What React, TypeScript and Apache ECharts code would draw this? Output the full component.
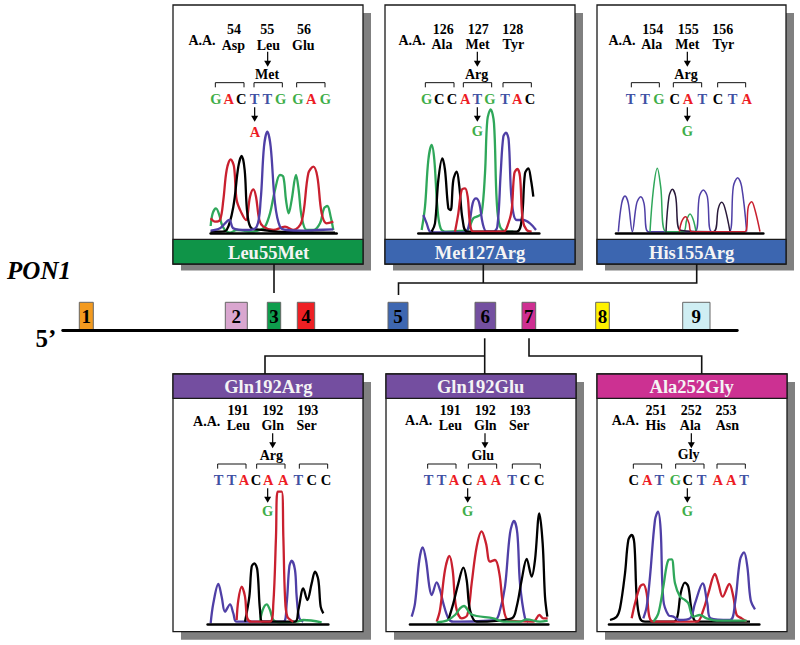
import React, { useEffect, useRef } from "react";
import * as echarts from "echarts";

type Pt = [number, number];

// ---- Trace readings: [scan position, signal level] per panel and dye ----
const leuGreen: Pt[] = [[122,678],[128,640],[138,625],[148,645],[155,672],[165,690],[180,698],[200,690],[220,692],[240,695],[270,690],[285,680],[300,640],[315,570],[330,525],[340,530],[348,600],[356,640],[365,600],[378,525],[386,570],[395,650],[410,690],[430,690],[450,670],[462,625],[472,618],[482,650],[490,690]];
const leuRed: Pt[] = [[122,655],[135,665],[150,660],[160,600],[170,510],[182,478],[192,500],[200,600],[215,640],[228,660],[240,590],[250,568],[258,590],[268,660],[280,680],[310,690],[345,680],[370,690],[395,665],[415,520],[430,500],[442,530],[455,640],[470,670],[490,665]];
const leuBlack: Pt[] = [[122,695],[150,695],[170,690],[190,620],[205,500],[215,468],[224,510],[232,640],[245,685],[280,690],[320,695],[495,698]];
const leuBlue: Pt[] = [[122,692],[150,685],[178,660],[190,685],[230,690],[260,680],[272,600],[282,440],[292,395],[302,440],[315,610],[330,680],[350,690],[400,692],[440,690],[490,688]];

const metGreen: Pt[] = [[125,690],[135,620],[145,480],[155,435],[163,480],[172,620],[182,685],[200,695],[240,693],[262,690],[280,655],[295,648],[305,640],[315,520],[322,360],[332,328],[342,370],[350,600],[360,680],[380,695],[400,695]];
const metBlue: Pt[] = [[130,645],[140,670],[150,695],[165,697],[255,697],[268,670],[278,610],[288,595],[298,610],[308,670],[320,695],[340,695],[352,680],[362,520],[370,410],[378,398],[386,420],[395,600],[410,660],[430,660],[450,670],[468,690]];
const metBlack: Pt[] = [[155,695],[165,670],[175,540],[187,475],[195,510],[205,625],[212,630],[220,540],[230,515],[238,560],[248,660],[262,695],[410,695],[425,660],[435,520],[445,505],[453,540],[460,590]];
const metRed: Pt[] = [[225,695],[235,640],[245,570],[255,565],[263,590],[270,670],[280,695],[370,695],[385,670],[395,630],[403,520],[412,507],[420,530],[428,660],[440,690],[455,695]];

const hisBlue: Pt[] = [[85,695],[95,610],[105,588],[115,610],[127,695],[140,610],[152,590],[162,610],[175,695],[315,695],[328,590],[340,570],[352,590],[365,695],[418,695],[430,560],[443,533],[455,560],[470,695]];
const hisGreen: Pt[] = [[180,695],[190,570],[202,505],[212,560],[228,695],[280,695],[290,660],[300,642],[310,660],[318,695]];
const hisBlack: Pt[] = [[228,695],[237,590],[247,568],[257,590],[270,690],[370,695],[385,625],[395,607],[405,625],[420,695]];
const hisRed: Pt[] = [[268,695],[275,665],[287,650],[297,670],[305,695],[465,695],[475,620],[485,605],[495,630],[510,695]];

const argBlue: Pt[] = [[122,760],[130,700],[145,642],[155,680],[165,725],[180,703],[190,730],[200,755],[340,755],[350,700],[358,590],[365,572],[375,600],[380,680],[388,745],[400,755]];
const argRed: Pt[] = [[200,750],[205,690],[215,650],[225,680],[232,745],[245,755],[300,755],[310,700],[318,500],[323,365],[335,365],[340,500],[345,680],[352,740],[370,755]];
const argBlack: Pt[] = [[225,755],[238,680],[245,590],[253,580],[262,600],[270,720],[278,755],[375,755],[385,720],[400,655],[412,690],[425,640],[435,605],[445,630],[452,710],[460,730]];
const argGreen: Pt[] = [[270,755],[278,720],[290,703],[300,720],[310,750],[330,757],[380,755],[400,750],[455,757]];

const gluBlue: Pt[] = [[95,740],[105,700],[118,570],[128,532],[138,570],[148,650],[155,675],[170,637],[180,660],[190,700],[205,745],[220,755],[345,750],[360,720],[375,650],[390,490],[402,453],[412,490],[420,640],[435,745],[445,755]];
const gluRed: Pt[] = [[170,755],[180,720],[195,600],[208,558],[218,600],[228,710],[245,745],[262,735],[275,640],[290,530],[305,484],[318,520],[330,575],[345,570],[358,610],[370,710],[385,750],[460,755],[478,735],[490,745],[503,745]];
const gluBlack: Pt[] = [[205,750],[220,700],[235,640],[250,593],[260,630],[270,720],[290,755],[395,745],[410,710],[425,630],[440,567],[455,620],[465,570],[478,430],[488,520],[495,680],[502,740]];
const gluGreen: Pt[] = [[170,757],[200,752],[225,735],[240,715],[252,708],[270,730],[290,738],[340,745],[370,755],[420,755],[440,748],[480,755],[503,752]];

const glyBlack: Pt[] = [[60,750],[80,740],[90,715],[105,610],[115,510],[125,495],[133,520],[140,680],[150,745],[165,755],[250,755],[262,740],[272,670],[285,638],[295,650],[305,720],[320,755],[440,755],[480,755]];
const glyRed: Pt[] = [[125,745],[135,700],[150,650],[160,643],[170,670],[178,740],[190,755],[320,755],[340,720],[355,670],[375,612],[385,640],[398,680],[418,642],[430,680],[440,735],[455,745],[470,755]];
const glyBlue: Pt[] = [[160,745],[170,710],[180,620],[195,450],[204,425],[212,480],[220,690],[235,735],[250,740],[270,750],[300,745],[315,700],[338,640],[352,700],[362,745],[420,750],[435,700],[450,570],[462,547],[472,590],[482,690],[495,718]];
const glyGreen: Pt[] = [[190,755],[205,730],[220,650],[235,570],[245,568],[255,640],[270,680],[285,690],[295,700],[310,740],[330,735],[350,745],[380,752],[470,752]];

// ---- Gene track ----
const exonLabels = ["1","2","3","4","5","6","7","8","9"];
const exonStarts = [79.3,225.3,267.3,297.3,388,475,522,595.7,682.7];
const exonEnds = [93.3,247.3,280.7,314.7,408,495.7,535.7,609.3,710];
const exonHeight = 28;
const exonColors = ["#f39a1f","#d9a6cf","#0f9d4d","#ee2024","#3e67b1","#7450a0","#cf2f92","#fff200","#cfeef3"];

// ---- Panel texts ----
const titles = ["Leu55Met","Met127Arg","His155Arg","Gln192Arg","Gln192Glu","Ala252Gly"];
const bandColors = ["#0f9448","#3c66b0","#3c66b0","#744ea0","#744ea0","#cc3192"];
const numbers = [["54","55","56"],["126","127","128"],["154","155","156"],["191","192","193"],["191","192","193"],["251","252","253"]];
const residues = [["Asp","Leu","Glu"],["Ala","Met","Tyr"],["Ala","Met","Tyr"],["Leu","Gln","Ser"],["Leu","Gln","Ser"],["His","Ala","Asn"]];
const mutants = ["Met","Arg","Arg","Arg","Glu","Gly"];
const codons = ["GACTTGGAG","GCCATGTAC","TTGCATCTA","TTACAATCC","TTACAATCC","CATGCTAAT"];
const changed = ["A","G","G","G","G","G"];

// ---- Layout, in units of the 3x crops, with each panel's origin ----
const layouts = [
  { ox:170, oy:0, left:173, right:363, top:5, bandTop:239.3, bandBottom:264, bottom:264, titleX:296, titleY:760, aa:[96,120], numX:[192,292,402], numY:89, resX:[190,295,400], resY:135, arrowX:293, arrowY:[155,200], mutXY:[291,223], brackets:[[136,222],[252,337],[380,465]], brY:[248,262], baseX:[138,176,214,254,292,332,384,424,466], baseY:296, arrow2X:254, arrow2Y:[322,365], chXY:[255,395], plot:[122,500,300,700] },
  { ox:380, oy:0, left:385, right:575, top:5, bandTop:239.3, bandBottom:264, bottom:264, titleX:300, titleY:760, aa:[96,120], numX:[190,295,398], numY:89, resX:[186,293,400], resY:134, arrowX:292, arrowY:[155,200], mutXY:[290,222], brackets:[[136,222],[250,335],[369,454]], brY:[248,262], baseX:[140,178,216,256,292,330,375,412,450], baseY:296, arrow2X:292, arrow2Y:[322,365], chXY:[292,392], plot:[115,478,300,700] },
  { ox:590, oy:0, left:597, right:786, top:5, bandTop:239.3, bandBottom:264, bottom:264, titleX:305, titleY:760, aa:[96,120], numX:[188,295,398], numY:89, resX:[185,292,400], resY:134, arrowX:292, arrowY:[155,200], mutXY:[288,224], brackets:[[124,208],[250,335],[383,467]], brY:[248,262], baseX:[122,165,207,254,294,337,384,428,470], baseY:296, arrow2X:292, arrow2Y:[322,365], chXY:[292,392], plot:[78,520,300,700] },
  { ox:170, oy:370, left:173, right:363, top:374, bandTop:374, bandBottom:398.3, bottom:631.7, titleX:295, titleY:52, aa:[110,155], numX:[204,308,413], numY:121, resX:[205,308,410], resY:166, arrowX:308, arrowY:[190,235], mutXY:[304,256], brackets:[[143,228],[260,345],[388,473]], brY:[282,296], baseX:[146,185,222,258,295,340,385,425,468], baseY:329, arrow2X:293, arrow2Y:[355,398], chXY:[293,424], plot:[113,475,340,762] },
  { ox:380, oy:370, left:386, right:576, top:374, bandTop:374, bandBottom:398.3, bottom:631.7, titleX:302, titleY:52, aa:[116,152], numX:[211,316,420], numY:121, resX:[211,316,417], resY:166, arrowX:315, arrowY:[190,235], mutXY:[308,256], brackets:[[143,228],[265,350],[397,481]], brY:[282,296], baseX:[146,185,222,262,305,348,396,435,478], baseY:329, arrow2X:263, arrow2Y:[355,398], chXY:[263,424], plot:[90,505,340,762] },
  { ox:590, oy:370, left:597, right:787, top:374, bandTop:374, bandBottom:398.3, bottom:631.7, titleX:305, titleY:52, aa:[106,152], numX:[198,304,408], numY:121, resX:[197,301,412], resY:166, arrowX:304, arrowY:[190,235], mutXY:[296,254], brackets:[[130,215],[257,342],[381,466]], brY:[282,296], baseX:[131,172,208,256,293,335,383,424,462], baseY:329, arrow2X:292, arrow2Y:[355,398], chXY:[292,424], plot:[57,508,340,762] },
];

const GREEN = "#2fa75a";
const RED = "#c9202f";
const BLUE = "#4f3fa6";
const BLACK = "#000000";
const traces: { color: string; data: Pt[] }[][] = [
  [{color:GREEN,data:leuGreen},{color:RED,data:leuRed},{color:BLACK,data:leuBlack},{color:BLUE,data:leuBlue}],
  [{color:GREEN,data:metGreen},{color:BLUE,data:metBlue},{color:BLACK,data:metBlack},{color:RED,data:metRed}],
  [{color:BLUE,data:hisBlue},{color:GREEN,data:hisGreen},{color:"#2a1a3a",data:hisBlack},{color:RED,data:hisRed}],
  [{color:BLUE,data:argBlue},{color:GREEN,data:argGreen},{color:BLACK,data:argBlack},{color:RED,data:argRed}],
  [{color:BLUE,data:gluBlue},{color:RED,data:gluRed},{color:BLACK,data:gluBlack},{color:GREEN,data:gluGreen}],
  [{color:BLACK,data:glyBlack},{color:RED,data:glyRed},{color:BLUE,data:glyBlue},{color:GREEN,data:glyGreen}],
];

const baseColor: Record<string,string> = { G:"#3fae49", A:"#ed1c24", C:"#000000", T:"#3f51a3" };
const SERIF = '"Liberation Serif"';
const DARK = "#1a1a1a";
const SMALL = 14;

function label(text: string, x: number, y: number, size: number, fill = "#000", z = 20, style = "bold") {
  return { type:"text", x, y, z, silent:true, style:{ text, fill, font:`${style} ${size}px ${SERIF}`, align:"center", verticalAlign:"middle" } };
}
function arrow(x: number, y0: number, y1: number) {
  return [
    { type:"line", z:20, silent:true, shape:{ x1:x, y1:y0, x2:x, y2:y1-4 }, style:{ stroke:"#000", lineWidth:1.2 } },
    { type:"polygon", z:20, silent:true, shape:{ points:[[x-3.5,y1-6],[x+3.5,y1-6],[x,y1]] }, style:{ fill:"#000" } },
  ];
}
function poly(points: number[][], lineWidth = 1.5) {
  return { type:"polyline", z:1, silent:true, shape:{ points }, style:{ stroke:"#111", lineWidth, fill:"none" } };
}

function panelGraphics(i: number): any[] {
  const L = layouts[i];
  const X = (c: number) => L.ox + c/3;
  const Y = (c: number) => L.oy + c/3;
  const out: any[] = [];
  out.push({ type:"rect", z:0, silent:true, shape:{ x:L.left+8, y:L.top+8, width:L.right-L.left, height:L.bottom-L.top+(i<3?-1.5:0) }, style:{ fill:"#808080" } });
  out.push({ type:"rect", z:1, silent:true, shape:{ x:L.left, y:L.top, width:L.right-L.left, height:L.bottom-L.top }, style:{ fill:"#fff", stroke:DARK, lineWidth:1.3 } });
  out.push({ type:"rect", z:1, silent:true, shape:{ x:L.left, y:L.bandTop, width:L.right-L.left, height:L.bandBottom-L.bandTop }, style:{ fill:bandColors[i], stroke:DARK, lineWidth:1.3 } });
  out.push(label(titles[i], X(L.titleX), Y(L.titleY), 18.5, "#f4f4f4"));
  out.push(label("A.A.", X(L.aa[0]), Y(L.aa[1]), SMALL));
  numbers[i].forEach((t,k) => out.push(label(t, X(L.numX[k]), Y(L.numY), SMALL)));
  residues[i].forEach((t,k) => out.push(label(t, X(L.resX[k]), Y(L.resY), SMALL)));
  out.push(...arrow(X(L.arrowX), Y(L.arrowY[0]), Y(L.arrowY[1])));
  out.push(label(mutants[i], X(L.mutXY[0]), Y(L.mutXY[1]), SMALL));
  L.brackets.forEach(([a,b]) => {
    const p = poly([[X(a),Y(L.brY[1])],[X(a),Y(L.brY[0])],[X(b),Y(L.brY[0])],[X(b),Y(L.brY[1])]], 1);
    p.z = 20; out.push(p);
  });
  codons[i].split("").forEach((c,k) => out.push(label(c, X(L.baseX[k]), Y(L.baseY), 14.5, baseColor[c])));
  out.push(...arrow(X(L.arrow2X), Y(L.arrow2Y[0]), Y(L.arrow2Y[1])));
  out.push(label(changed[i], X(L.chXY[0]), Y(L.chXY[1]), 14.5, baseColor[changed[i]]));
  return out;
}

const connectors = [
  [[274,264],[274,293]],
  [[398.5,295],[398.5,283],[696.7,283],[696.7,264]],
  [[483.3,264],[483.3,283]],
  [[484.7,338.3],[484.7,374]],
  [[265,374],[265,356],[484.7,356]],
  [[529,338.3],[529,356],[701.7,356],[701.7,374]],
];

export default function App() {
  const ref = useRef<HTMLDivElement>(null);
  useEffect(() => {
    const chart = echarts.init(ref.current!, undefined, { renderer:"svg" });
    const grid: any[] = [], xAxis: any[] = [], yAxis: any[] = [], series: any[] = [];
    layouts.forEach((L,i) => {
      const [x0,x1,y0,y1] = L.plot;
      grid.push({ left:L.ox+x0/3, width:(x1-x0)/3, top:L.oy+y0/3, height:(y1-y0)/3 });
      xAxis.push({ gridIndex:i, type:"value", min:x0, max:x1, position:"bottom", z:10, axisLine:{ show:true, onZero:false, lineStyle:{ color:"#000", width:2.6 } }, axisTick:{ show:false }, axisLabel:{ show:false }, splitLine:{ show:false } });
      yAxis.push({ gridIndex:i, type:"value", inverse:true, min:y0, max:y1, show:false, splitLine:{ show:false } });
      traces[i].forEach(t => series.push({
        type:"line", name:titles[i], xAxisIndex:i, yAxisIndex:i, data:t.data, smooth:0.35, showSymbol:false, symbol:"none", z:5,
        lineStyle:{ color:t.color, width:i===2?1.5:2.3 }, silent:true, clip:false,
      }));
    });
    const g = layouts.length;
    grid.push({ left:62.7, width:674.6, top:302.3, height:28 });
    xAxis.push({ gridIndex:g, type:"value", min:62.7, max:737.3, position:"bottom", z:10, axisLine:{ show:true, onZero:false, lineStyle:{ color:"#000", width:2.8 } }, axisTick:{ show:false }, axisLabel:{ show:false }, splitLine:{ show:false } });
    yAxis.push({ gridIndex:g, type:"value", min:0, max:28, show:false, splitLine:{ show:false } });
    series.push({
      type:"custom", name:"PON1 exons", xAxisIndex:g, yAxisIndex:g, z:3, silent:true,
      data: exonLabels.map((_,k) => [exonStarts[k], exonEnds[k], exonHeight]),
      renderItem: (p: any, api: any) => {
        const a = api.coord([api.value(0), 0]);
        const b = api.coord([api.value(1), api.value(2)]);
        return { type:"group", children:[
          { type:"rect", shape:{ x:a[0], y:b[1], width:b[0]-a[0], height:a[1]-b[1] }, style:{ fill:exonColors[p.dataIndex], stroke:"#666", lineWidth:1 } },
          { type:"text", x:(a[0]+b[0])/2, y:(a[1]+b[1])/2+0.5, style:{ text:exonLabels[p.dataIndex], fill:"#000", font:`bold 19px ${SERIF}`, align:"center", verticalAlign:"middle" } },
        ] };
      },
    });
    const elements: any[] = [];
    layouts.forEach((_,i) => elements.push(...panelGraphics(i)));
    connectors.forEach(c => elements.push(poly(c, 1.6)));
    elements.push(label("PON1", 39, 270, 25, "#000", 20, "italic bold"));
    elements.push(label("5\u2019", 46, 338, 25));
    chart.setOption({ animation:false, backgroundColor:"#fff", grid, xAxis, yAxis, series, graphic:{ elements } });
    return () => chart.dispose();
  }, []);
  return <div ref={ref} style={{ position:"absolute", left:0, top:0, width:800, height:645 }} />;
}
